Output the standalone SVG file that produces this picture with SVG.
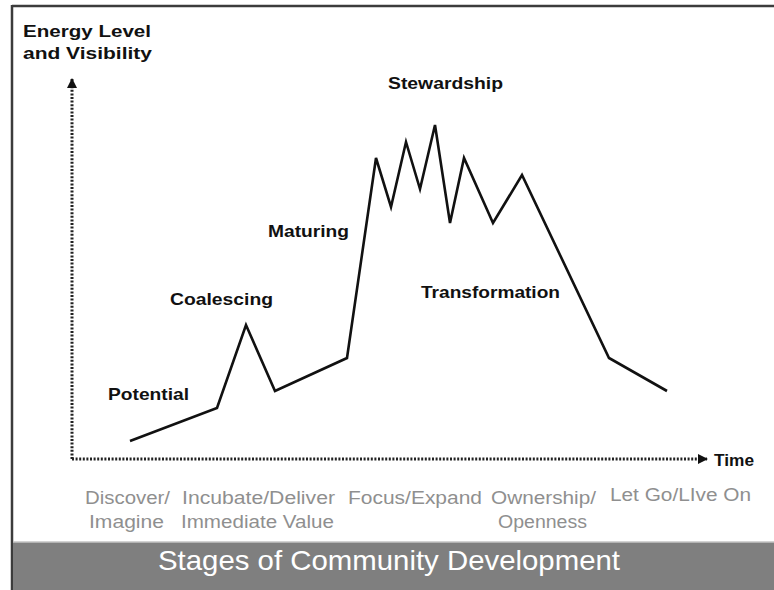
<svg xmlns="http://www.w3.org/2000/svg" width="774" height="590" viewBox="0 0 774 590">
  <style>
    .lbl { font-family: "Liberation Sans", Arial, sans-serif; font-weight: bold; font-size: 17px; fill: #111; }
    .stage { font-family: "Liberation Sans", Arial, sans-serif; font-size: 17.5px; fill: #8f8f8f; }
    .title { font-family: "Liberation Sans", Arial, sans-serif; font-size: 28px; fill: #ffffff; }
    .axis { stroke: #222; stroke-width: 3; stroke-dasharray: 2 1.6; fill: none; }
    .curve { stroke: #111; stroke-width: 2.6; fill: none; stroke-linejoin: miter; }
  </style>
  <defs>
    <marker id="arrowHead" viewBox="0 0 10 10" refX="9" refY="5" markerWidth="11" markerHeight="10" markerUnits="userSpaceOnUse" orient="auto">
      <path d="M0,0 L10,5 L0,10 Z" fill="#111"/>
    </marker>
  </defs>

  <rect x="0" y="0" width="774" height="590" fill="#ffffff"/>

  <!-- outer frame -->
  <g id="frame">
    <line x1="12" y1="6" x2="774" y2="6" stroke="#3c3c3c" stroke-width="2.5"/>
    <line x1="12" y1="5" x2="12" y2="590" stroke="#3c3c3c" stroke-width="2.5"/>
  </g>

  <!-- footer banner -->
  <g id="banner">
    <rect x="13" y="542" width="761" height="48" fill="#7f7f7f"/>
    <line x1="13" y1="542" x2="774" y2="542" stroke="#c4c4c4" stroke-width="1.5"/>
    <text class="title" x="158" y="570" textLength="462" lengthAdjust="spacingAndGlyphs">Stages of Community Development</text>
  </g>

  <!-- axes and the energy curve -->
  <g id="connectors">
    <line class="axis" x1="72" y1="459" x2="72" y2="79" marker-end="url(#arrowHead)"/>
    <line class="axis" x1="72" y1="459" x2="707" y2="459" marker-end="url(#arrowHead)"/>
    <polyline id="energy-curve" class="curve" points="130,441 217,408 246,325 275,391 347,358 376,158 391,207 406,142 420,189 435,125 450,223 464,158 493,223 522,175 609,358 667,391"/>
  </g>

  <g id="y-axis-label">
    <text class="lbl" x="23" y="37" textLength="128" lengthAdjust="spacingAndGlyphs">Energy Level</text>
    <text class="lbl" x="23" y="59" textLength="129" lengthAdjust="spacingAndGlyphs">and Visibility</text>
  </g>
  <g id="x-axis-label">
    <text class="lbl" x="714" y="466" font-size="18" textLength="40" lengthAdjust="spacingAndGlyphs">Time</text>
  </g>

  <!-- phase labels along the curve -->
  <g id="potential"><text class="lbl" x="108" y="400" textLength="81" lengthAdjust="spacingAndGlyphs">Potential</text></g>
  <g id="coalescing"><text class="lbl" x="170" y="305" textLength="103" lengthAdjust="spacingAndGlyphs">Coalescing</text></g>
  <g id="maturing"><text class="lbl" x="268" y="237" textLength="81" lengthAdjust="spacingAndGlyphs">Maturing</text></g>
  <g id="stewardship"><text class="lbl" x="388" y="89" textLength="115" lengthAdjust="spacingAndGlyphs">Stewardship</text></g>
  <g id="transformation"><text class="lbl" x="421" y="298" textLength="139" lengthAdjust="spacingAndGlyphs">Transformation</text></g>

  <!-- stage names under the time axis -->
  <g id="stage-discover">
    <text class="stage" x="85" y="504" textLength="85" lengthAdjust="spacingAndGlyphs">Discover/</text>
    <text class="stage" x="89" y="528" textLength="75" lengthAdjust="spacingAndGlyphs">Imagine</text>
  </g>
  <g id="stage-incubate">
    <text class="stage" x="182" y="504" textLength="153" lengthAdjust="spacingAndGlyphs">Incubate/Deliver</text>
    <text class="stage" x="181" y="528" textLength="153" lengthAdjust="spacingAndGlyphs">Immediate Value</text>
  </g>
  <g id="stage-focus">
    <text class="stage" x="348" y="504" textLength="134" lengthAdjust="spacingAndGlyphs">Focus/Expand</text>
  </g>
  <g id="stage-ownership">
    <text class="stage" x="491" y="504" textLength="105" lengthAdjust="spacingAndGlyphs">Ownership/</text>
    <text class="stage" x="498" y="528" textLength="89" lengthAdjust="spacingAndGlyphs">Openness</text>
  </g>
  <g id="stage-letgo">
    <text class="stage" x="610" y="501" textLength="141" lengthAdjust="spacingAndGlyphs">Let Go/LIve On</text>
  </g>
</svg>
